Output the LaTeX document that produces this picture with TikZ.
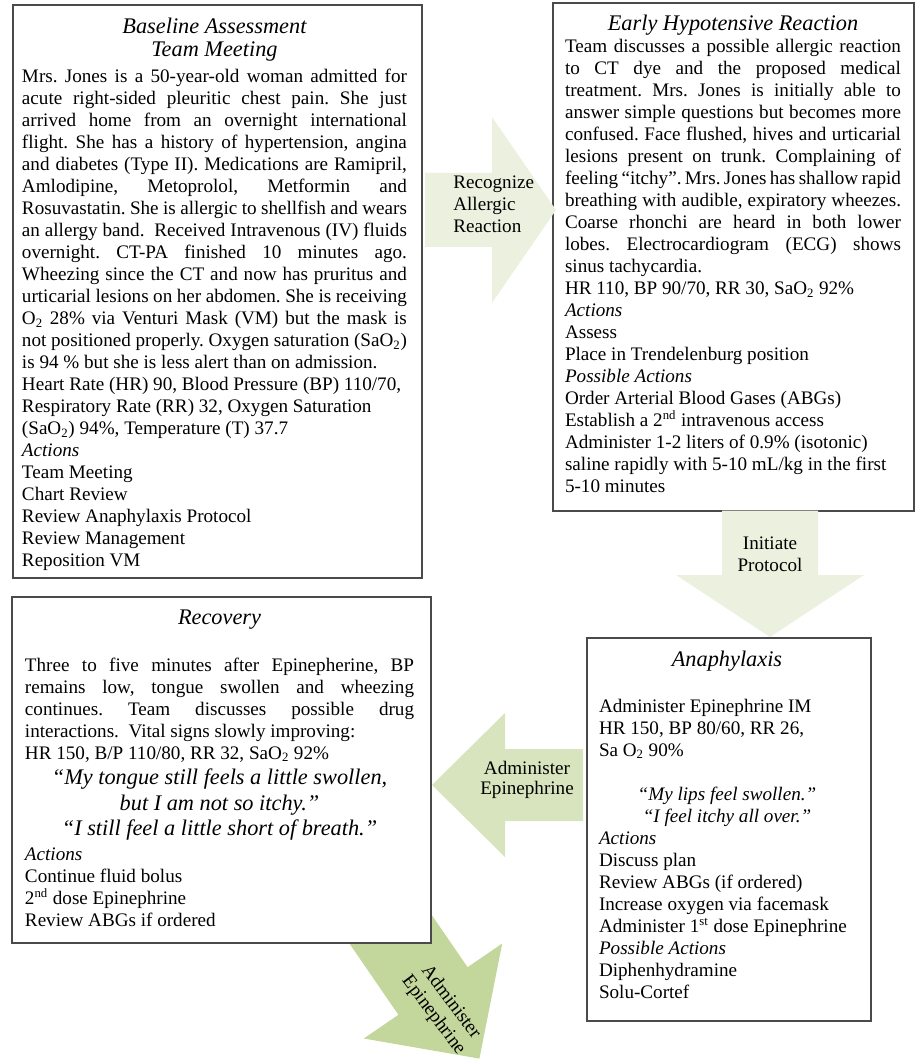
\documentclass[tikz,border=0pt]{standalone}
\usepackage{fontspec}
\setmainfont{Liberation Serif}
\frenchspacing
\definecolor{paleG}{HTML}{EBF1DE}
\definecolor{midG}{HTML}{D7E4BD}
\definecolor{darkG}{HTML}{C3D69B}
\definecolor{frameC}{HTML}{4A4A4A}
\newcommand\jln[1]{\hbox to \linewidth{#1}}
\newcommand\lln[1]{\hbox{#1}}
\newcommand\cln[1]{\hbox to \linewidth{\hfil#1\hfil}}
\newcommand\Otwo{O\textsubscript{2}}
\newcommand\bodyfont{\fontsize{12}{13.8}\selectfont\upshape}
\newcommand\titlefont{\fontsize{14}{14.4}\selectfont\itshape}
\tikzset{
  frame/.style={draw=frameC, line width=0.9pt, fill=white, inner sep=0pt, outer sep=0pt, anchor=north west},
  txt/.style={inner sep=0pt, outer sep=0pt, anchor=base west},
  lbl/.style={inner sep=0pt, font=\fontsize{12}{13}\selectfont, align=center}
}
\begin{document}
\frenchspacing
\begin{tikzpicture}[x=0.6274pt, y=-0.6274pt]
\useasboundingbox (0,0) rectangle (917,1060);

% diagonal arrow (behind Recovery box)
\fill[darkG] (394,860.1) -- (467.6,967.2) -- (502.2,943.5) -- (479.4,1058.6)
  -- (363.8,1038.5) -- (398.4,1014.8) -- (324.8,907.7) -- cycle;
\node[lbl, rotate=-53, font=\fontsize{12}{13.6}\selectfont] (a4) at (442,1009) {Administer\\Epinephrine};

% frames
\node[frame, minimum width=256.6pt, minimum height=359.5pt] (b1) at (13,5) {};
\node[frame, minimum width=226.5pt, minimum height=318.7pt] (b2) at (553,3) {};
\node[frame, minimum width=262.9pt, minimum height=217.1pt] (b3) at (12,597) {};
\node[frame, minimum width=178.2pt, minimum height=240.3pt] (b4) at (587,638) {};

% Box 1 text
\node[txt] (t1) at (22,34) {\begin{minipage}[t]{241.5pt}
\frenchspacing
\titlefont
\cln{Baseline Assessment}
\cln{Team Meeting}
\bodyfont
\vspace{2.5pt}
\jln{Mrs. Jones is a 50-year-old woman admitted for}
\jln{acute right-sided pleuritic chest pain. She just}
\jln{arrived home from an overnight international}
\jln{flight. She has a history of hypertension, angina}
\jln{and diabetes (Type II). Medications are Ramipril,}
\jln{Amlodipine, Metoprolol, Metformin and}
\jln{Rosuvastatin. She is allergic to shellfish and wears}
\jln{an allergy band.\ \ Received Intravenous (IV) fluids}
\jln{overnight. CT-PA finished 10 minutes ago.}
\jln{Wheezing since the CT and now has pruritus and}
\jln{urticarial lesions on her abdomen. She is receiving}
\jln{\Otwo{} 28\% via Venturi Mask (VM) but the mask is}
\jln{not positioned properly. Oxygen saturation (Sa\Otwo)}
\lln{is 94 \% but she is less alert than on admission.}
\lln{Heart Rate (HR) 90, Blood Pressure (BP) 110/70,}
\lln{Respiratory Rate (RR) 32, Oxygen Saturation}
\lln{(Sa\Otwo) 94\%, Temperature (T) 37.7}
\lln{\itshape Actions}
\lln{Team Meeting}
\lln{Chart Review}
\lln{Review Anaphylaxis Protocol}
\lln{Review Management}
\lln{Reposition VM}
\end{minipage}};

% Box 2 text
\node[txt] (t2) at (565,31) {\begin{minipage}[t]{210.8pt}
\frenchspacing
\titlefont
\cln{Early Hypotensive Reaction}
\bodyfont
\jln{Team discusses a possible allergic reaction}
\jln{to CT dye and the proposed medical}
\jln{treatment. Mrs. Jones is initially able to}
\jln{answer simple questions but becomes more}
\jln{confused. Face flushed, hives and urticarial}
\jln{lesions present on trunk. Complaining of}
\jln{feeling “itchy”. Mrs. Jones has shallow rapid}
\jln{breathing with audible, expiratory wheezes.}
\jln{Coarse rhonchi are heard in both lower}
\jln{lobes. Electrocardiogram (ECG) shows}
\lln{sinus tachycardia.}
\lln{HR 110, BP 90/70, RR 30, Sa\Otwo{} 92\%}
\lln{\itshape Actions}
\lln{Assess}
\lln{Place in Trendelenburg position}
\lln{\itshape Possible Actions}
\lln{Order Arterial Blood Gases (ABGs)}
\lln{Establish a 2\textsuperscript{nd} intravenous access}
\lln{Administer 1-2 liters of 0.9\% (isotonic)}
\lln{saline rapidly with 5-10 mL/kg in the first}
\lln{5-10 minutes}
\end{minipage}};

% Box 3 text
\node[txt] (t3) at (25,624) {\begin{minipage}[t]{244.1pt}
\frenchspacing
\titlefont
\cln{Recovery}
\bodyfont
\vspace{15.7pt}
\jln{Three to five minutes after Epinepherine, BP}
\jln{remains low, tongue swollen and wheezing}
\jln{continues. Team discusses possible drug}
\lln{interactions.\ \ Vital signs slowly improving:}
\lln{HR 150, B/P 110/80, RR 32, Sa\Otwo{} 92\%}
\fontsize{14}{16}\selectfont\itshape
\cln{“My tongue still feels a little swollen,}
\cln{but I am not so itchy.”}
\cln{“I still feel a little short of breath.”}
\bodyfont
\vspace{1.9pt}
\lln{\itshape Actions}
\lln{Continue fluid bolus}
\lln{2\textsuperscript{nd} dose Epinephrine}
\lln{Review ABGs if ordered}
\end{minipage}};

% Box 4 text
\node[txt] (t4) at (599,666) {\begin{minipage}[t]{160.6pt}
\frenchspacing
\titlefont
\cln{Anaphylaxis}
\bodyfont
\vspace{15.1pt}
\lln{Administer Epinephrine IM}
\lln{HR 150, BP 80/60, RR 26,}
\lln{Sa \Otwo{} 90\%}
\vspace{13.8pt}
\cln{\itshape “My lips feel swollen.”}
\cln{\itshape “I feel itchy all over.”}
\lln{\itshape Actions}
\lln{Discuss plan}
\lln{Review ABGs (if ordered)}
\lln{Increase oxygen via facemask}
\lln{Administer 1\textsuperscript{st} dose Epinephrine}
\lln{\itshape Possible Actions}
\lln{Diphenhydramine}
\lln{Solu-Cortef}
\end{minipage}};

% arrows over frames
\fill[paleG] (425,173) -- (492,173) -- (492,117) -- (556,210) -- (492,303) -- (492,247) -- (425,247) -- cycle;
\node[lbl, anchor=west, align=left, font=\fontsize{12}{13.8}\selectfont] (a1) at (453,204) {Recognize\\Allergic\\Reaction};

\fill[paleG] (722,510.5) -- (818,510.5) -- (818,575) -- (864,575) -- (770,637) -- (676,575) -- (722,575) -- cycle;
\node[lbl, font=\fontsize{12}{13.8}\selectfont] (a2) at (770,554) {Initiate\\Protocol};

\fill[midG] (583,749) -- (505,749) -- (505,713) -- (432,785) -- (505,857) -- (505,821) -- (583,821) -- cycle;
\node[lbl] (a3) at (527,780) {Administer\\Epinephrine};
\end{tikzpicture}
\end{document}
